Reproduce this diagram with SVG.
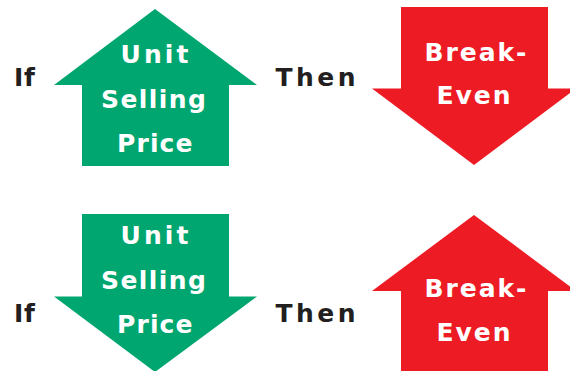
<svg xmlns="http://www.w3.org/2000/svg" width="570" height="371" viewBox="0 0 570 371">
<style>
.g{fill:#00A66F}
.r{fill:#ED1C24}
text{font-family:"DejaVu Sans","Open Sans",sans-serif;font-weight:bold;font-size:25px}
.w{fill:#FFFFFF}
.k{fill:#231F20}
</style>
<rect width="570" height="371" fill="#FFFFFF"/>
<g id="if-top"><text class="k" x="14" y="85.7" textLength="21" lengthAdjust="spacing">If</text></g>
<g id="then-top"><text class="k" x="275.5" y="85.7" textLength="80" lengthAdjust="spacing">Then</text></g>
<g id="price-up">
<polygon class="g" points="155,9 257,85 229,85 229,166 82,166 82,85 54,85"/>
<text class="w" x="120.5" y="62.7" textLength="68" lengthAdjust="spacing">Unit</text>
<text class="w" x="101" y="107.7" textLength="105" lengthAdjust="spacing">Selling</text>
<text class="w" x="117" y="151.7" textLength="75.5" lengthAdjust="spacing">Price</text>
</g>
<g id="breakeven-down">
<polygon class="r" points="401,7 548,7 548,88.5 576,88.5 474,165 372,88.5 401,88.5"/>
<text class="w" x="424.5" y="60.7" textLength="102" lengthAdjust="spacing">Break-</text>
<text class="w" x="436.5" y="104" textLength="74" lengthAdjust="spacing">Even</text>
</g>
<g id="if-bottom"><text class="k" x="14" y="322.3" textLength="21" lengthAdjust="spacing">If</text></g>
<g id="then-bottom"><text class="k" x="275.5" y="322.3" textLength="80" lengthAdjust="spacing">Then</text></g>
<g id="price-down">
<polygon class="g" points="82,214 229,214 229,296.5 257,296.5 155,372 54,296.5 82,296.5"/>
<text class="w" x="120.5" y="244.3" textLength="68" lengthAdjust="spacing">Unit</text>
<text class="w" x="101" y="289" textLength="105" lengthAdjust="spacing">Selling</text>
<text class="w" x="117" y="332.5" textLength="75.5" lengthAdjust="spacing">Price</text>
</g>
<g id="breakeven-up">
<polygon class="r" points="474,215 576,291 548,291 548,372 401,372 401,291 372,291"/>
<text class="w" x="424.5" y="297.3" textLength="102" lengthAdjust="spacing">Break-</text>
<text class="w" x="436.5" y="340.7" textLength="74" lengthAdjust="spacing">Even</text>
</g>
</svg>
